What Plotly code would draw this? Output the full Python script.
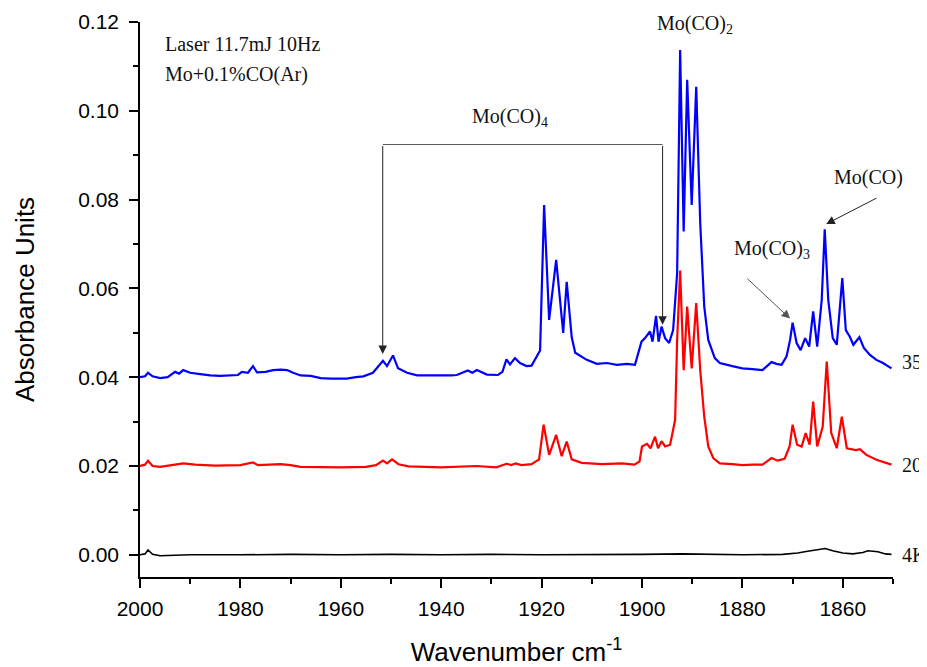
import plotly.graph_objects as go

# ---------------- data ----------------
blue_wn = [2000.0, 1999.0, 1998.4, 1997.5, 1996.0, 1994.5, 1993.0, 1992.2, 1991.4, 1990.0,
           1988.0, 1986.0, 1984.0, 1982.0, 1980.5, 1979.7, 1978.5, 1977.5, 1976.7, 1975.0,
           1973.5, 1972.0, 1970.7, 1969.5, 1968.0, 1966.0, 1964.0, 1962.0, 1960.0, 1958.8,
           1957.0, 1955.5, 1953.6, 1951.6, 1950.8, 1949.6, 1948.6, 1946.8, 1944.8, 1942.0,
           1940.0, 1938.0, 1936.9, 1934.7, 1933.8, 1932.9, 1930.9, 1928.7, 1927.8, 1927.0,
           1926.3, 1925.3, 1924.3, 1923.0, 1922.0, 1920.9, 1920.3, 1919.5, 1918.5, 1917.1,
           1915.7, 1915.0, 1914.0, 1913.3, 1911.0, 1909.0, 1907.0, 1905.0, 1903.0, 1901.4,
           1900.1, 1899.4, 1898.4, 1897.9, 1897.2, 1896.7, 1896.1, 1895.4, 1894.6, 1893.8,
           1893.0, 1892.4, 1891.7, 1891.0, 1890.1, 1889.2, 1888.4, 1887.6, 1886.8, 1885.5,
           1884.5, 1882.0, 1880.0, 1878.0, 1876.0, 1874.2, 1873.2, 1872.2, 1871.2, 1870.5,
           1870.0, 1869.2, 1868.4, 1867.5, 1866.7, 1865.9, 1865.1, 1864.2, 1863.6, 1862.9,
           1862.0, 1861.2, 1860.6, 1860.1, 1859.4, 1858.6, 1857.9, 1857.4, 1856.7, 1855.8,
           1854.6, 1853.3, 1852.0, 1850.3]
blue_val = [0.0400, 0.0402, 0.0410, 0.0402, 0.0398, 0.0400, 0.0412, 0.0408, 0.0416, 0.0410,
            0.0407, 0.0404, 0.0403, 0.0404, 0.0405, 0.0412, 0.0410, 0.0425, 0.0411, 0.0412,
            0.0416, 0.0417, 0.0416, 0.0410, 0.0404, 0.0403, 0.0398, 0.0397, 0.0396, 0.0397,
            0.0400, 0.0402, 0.0410, 0.0437, 0.0425, 0.0449, 0.0420, 0.0410, 0.0404, 0.0404,
            0.0403, 0.0404, 0.0405, 0.0415, 0.0410, 0.0416, 0.0406, 0.0405, 0.0412, 0.0440,
            0.0429, 0.0443, 0.0432, 0.0425, 0.0426, 0.0447, 0.0460, 0.0788, 0.0529, 0.0664,
            0.0500, 0.0615, 0.0490, 0.0455, 0.0439, 0.0430, 0.0432, 0.0428, 0.0430, 0.0428,
            0.0480, 0.0488, 0.0503, 0.0480, 0.0538, 0.0480, 0.0514, 0.0488, 0.0477, 0.0506,
            0.0634, 0.1137, 0.0728, 0.1070, 0.0788, 0.1054, 0.0747, 0.0559, 0.0484, 0.0443,
            0.0432, 0.0425, 0.0420, 0.0418, 0.0416, 0.0434, 0.0430, 0.0428, 0.0447, 0.0484,
            0.0523, 0.0477, 0.0461, 0.0488, 0.0469, 0.0548, 0.0469, 0.0574, 0.0733, 0.0574,
            0.0488, 0.0473, 0.0559, 0.0623, 0.0506, 0.0491, 0.0473, 0.0480, 0.0490, 0.0466,
            0.0450, 0.0439, 0.0432, 0.0420]

red_wn = [2000.0, 1999.0, 1998.4, 1997.5, 1996.0, 1993.0, 1991.4, 1989.0, 1985.0, 1980.0,
          1977.5, 1976.5, 1972.0, 1970.0, 1968.0, 1960.0, 1955.0, 1953.0, 1951.6, 1950.8,
          1949.8, 1948.5, 1946.5, 1940.0, 1935.0, 1933.0, 1929.0, 1927.0, 1926.0, 1925.2,
          1924.0, 1922.0, 1920.5, 1919.6, 1918.5, 1917.1, 1916.0, 1915.0, 1914.0, 1912.0,
          1908.0, 1904.0, 1901.5, 1900.5, 1900.0, 1899.0, 1898.3, 1897.4, 1896.8, 1896.1,
          1895.4, 1894.4, 1893.4, 1893.0, 1892.4, 1891.7, 1891.0, 1890.1, 1889.2, 1888.4,
          1887.6, 1886.8, 1885.8, 1884.5, 1882.0, 1880.0, 1878.0, 1876.0, 1874.2, 1873.0,
          1871.6, 1870.6, 1870.0, 1869.1, 1868.2, 1867.4, 1866.6, 1865.9, 1865.1, 1864.0,
          1863.2, 1862.3, 1861.2, 1860.2, 1859.2, 1858.2, 1857.4, 1856.6, 1855.3, 1853.3,
          1850.3]
red_val = [0.0200, 0.0203, 0.0212, 0.0200, 0.0198, 0.0204, 0.0206, 0.0203, 0.0201, 0.0202,
           0.0208, 0.0202, 0.0204, 0.0202, 0.0198, 0.0197, 0.0198, 0.0202, 0.0212, 0.0206,
           0.0215, 0.0204, 0.0199, 0.0197, 0.0199, 0.0200, 0.0197, 0.0205, 0.0202, 0.0206,
           0.0202, 0.0204, 0.0215, 0.0293, 0.0225, 0.0270, 0.0222, 0.0255, 0.0215, 0.0207,
           0.0204, 0.0206, 0.0203, 0.0210, 0.0244, 0.0250, 0.0240, 0.0266, 0.0240, 0.0256,
           0.0244, 0.0248, 0.0304, 0.0484, 0.0640, 0.0416, 0.0559, 0.0420, 0.0567, 0.0416,
           0.0311, 0.0244, 0.0218, 0.0206, 0.0204, 0.0202, 0.0203, 0.0203, 0.0218, 0.0212,
           0.0216, 0.0244, 0.0293, 0.0248, 0.0244, 0.0274, 0.0248, 0.0345, 0.0244, 0.0289,
           0.0435, 0.0274, 0.0240, 0.0311, 0.0240, 0.0238, 0.0236, 0.0238, 0.0225, 0.0214,
           0.0203]

black_wn = [2000.0, 1999.0, 1998.4, 1997.5, 1996.0, 1990.0, 1980.0, 1970.0, 1960.0, 1950.0,
            1940.0, 1930.0, 1920.0, 1910.0, 1900.0, 1892.0, 1888.0, 1880.0, 1872.0, 1869.0,
            1867.0, 1865.5, 1863.5, 1862.0, 1860.0, 1858.0, 1856.0, 1855.0, 1853.0, 1851.5,
            1850.3]
black_val = [0.0000, 0.0002, 0.0011, 0.0001, -0.0002, 0.0000, 0.0000, 0.0001, 0.0000, 0.0001,
             0.0000, 0.0001, 0.0000, 0.0000, 0.0001, 0.0002, 0.0001, 0.0000, 0.0001, 0.0004,
             0.0008, 0.0010, 0.0014, 0.0009, 0.0004, 0.0002, 0.0005, 0.0009, 0.0007, 0.0002,
             0.0001]

series_names = ["35K", "20K", "4K"]
x_ticks = [2000, 1980, 1960, 1940, 1920, 1900, 1880, 1860]
y_ticks = [0.00, 0.02, 0.04, 0.06, 0.08, 0.10, 0.12]

SERIF = "Liberation Serif, Times New Roman, serif"
SANS = "Liberation Sans, Arial, sans-serif"
TXT = dict(family=SERIF, size=20, color="#111")

fig = go.Figure()
fig.add_trace(go.Scatter(x=blue_wn, y=blue_val, mode="lines", name=series_names[0],
                         line=dict(color="#0000ff", width=2.2)))
fig.add_trace(go.Scatter(x=red_wn, y=red_val, mode="lines", name=series_names[1],
                         line=dict(color="#ff0000", width=2.2)))
fig.add_trace(go.Scatter(x=black_wn, y=black_val, mode="lines", name=series_names[2],
                         line=dict(color="#000000", width=1.6)))

ann = []
# right-hand series labels (clipped at the figure edge as in the original)
for name, yv in zip(series_names, [0.0434, 0.0203, 0.0]):
    ann.append(dict(x=1.009, xref="paper", y=yv, yref="y", text=name, showarrow=False,
                    xanchor="left", yanchor="middle", font=TXT))
# condition text
ann.append(dict(x=0.03, xref="paper", y=0.1150, yref="y", text="Laser 11.7mJ 10Hz",
                showarrow=False, xanchor="left", yanchor="middle", font=TXT))
ann.append(dict(x=0.03, xref="paper", y=0.1082, yref="y", text="Mo+0.1%CO(Ar)",
                showarrow=False, xanchor="left", yanchor="middle", font=TXT))
# species labels
ann.append(dict(x=1889.5, y=0.1195, text="Mo(CO)<sub>2</sub>", showarrow=False,
                xanchor="center", yanchor="middle", font=TXT))
ann.append(dict(x=1926.3, y=0.0985, text="Mo(CO)<sub>4</sub>", showarrow=False,
                xanchor="center", yanchor="middle", font=TXT))
ann.append(dict(x=1874.2, y=0.0688, text="Mo(CO)<sub>3</sub>", showarrow=False,
                xanchor="center", yanchor="middle", font=TXT))
ann.append(dict(x=1862.2, y=0.0850, text="Mo(CO)", showarrow=False,
                xanchor="left", yanchor="middle", font=TXT))
# bracket arrows for Mo(CO)4
for xw, ytip in [(1951.65, 0.0452), (1895.9, 0.0518)]:
    ann.append(dict(x=xw, y=ytip, ax=xw, ay=0.0924, axref="x", ayref="y", text="",
                    showarrow=True, arrowhead=2, arrowsize=1.7, arrowwidth=1, arrowcolor="#222"))
# Mo(CO)3 arrow
ann.append(dict(x=1870.5, y=0.0532, ax=1879.3, ay=0.0625, axref="x", ayref="y", text="",
                showarrow=True, arrowhead=2, arrowsize=1.7, arrowwidth=1, arrowcolor="#555"))
# Mo(CO) arrow
ann.append(dict(x=1863.3, y=0.0745, ax=1853.0, ay=0.0805, axref="x", ayref="y", text="",
                showarrow=True, arrowhead=2, arrowsize=1.7, arrowwidth=1, arrowcolor="#222"))

shapes = [dict(type="line", xref="x", yref="y", x0=1951.65, x1=1895.9, y0=0.0924, y1=0.0924,
               line=dict(color="#555", width=1))]

# page body has an 8px default margin, so the figure is 8px smaller than the window
fig.update_layout(
    width=919, height=659,
    margin=dict(l=132, r=34, t=14, b=90, autoexpand=False),
    paper_bgcolor="white", plot_bgcolor="white",
    showlegend=False,
    annotations=ann, shapes=shapes,
    xaxis=dict(range=[2000, 1850], tickvals=x_ticks, ticks="outside", ticklen=9, tickwidth=1.5,
               tickcolor="black", showline=True, linecolor="black", linewidth=1.5,
               showgrid=False, zeroline=False, ticklabelstandoff=3, automargin=False,
               minor=dict(dtick=10, ticks="outside", ticklen=5, tickwidth=1.5, tickcolor="black"),
               tickfont=dict(family=SANS, size=21, color="black"),
               title=dict(text="Wavenumber cm<sup>-1</sup>", font=dict(family=SANS, size=26, color="black"),
                          standoff=24)),
    yaxis=dict(range=[-0.005, 0.12], tickvals=y_ticks, tickformat=".2f", ticks="outside",
               ticklen=9, tickwidth=1.5, tickcolor="black", showline=True, linecolor="black",
               linewidth=1.5, showgrid=False, zeroline=False, ticklabelstandoff=6, automargin=False,
               minor=dict(dtick=0.01, ticks="outside", ticklen=5, tickwidth=1.5, tickcolor="black"),
               tickfont=dict(family=SANS, size=21, color="black"),
               title=dict(text="Absorbance Units", font=dict(family=SANS, size=26, color="black"),
                          standoff=36)),
)

fig.write_html("out.html")
